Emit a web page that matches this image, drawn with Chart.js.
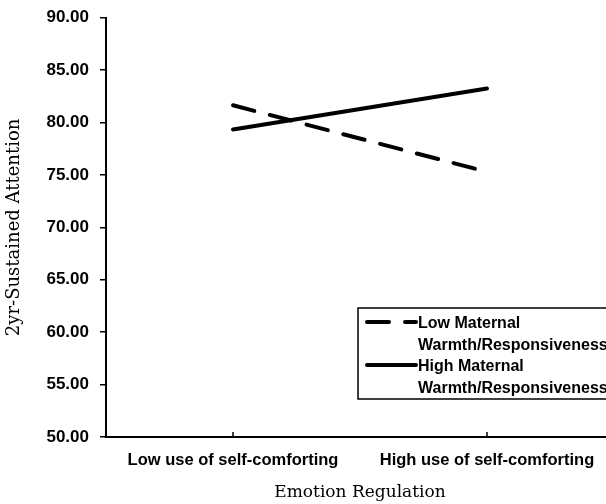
<!DOCTYPE html>
<html>
<head>
<meta charset="utf-8">
<script src="https://cdn.jsdelivr.net/npm/chart.js@4"></script>
<style>
  html, body { margin: 0; padding: 0; background: #fff; overflow: hidden; }
  #wrap { width: 614px; height: 504px; }
</style>
</head>
<body>
<div id="wrap"><canvas id="attnChart"></canvas></div>
<script>
// data
const categories = ["Low use of self-comforting", "High use of self-comforting"];
const lowWarmth = [81.65, 75.3];
const highWarmth = [79.35, 83.25];
const seriesNames = [["Low Maternal", "Warmth/Responsiveness"], ["High Maternal", "Warmth/Responsiveness"]];
const yTicks = [50, 55, 60, 65, 70, 75, 80, 85, 90];

const sans = "'Liberation Sans', Arial, sans-serif";
const serif = "'DejaVu Serif', 'Liberation Serif', serif";

// boxed legend at lower right, drawn from the datasets
const boxLegend = {
  id: "boxLegend",
  afterDraw(chart) {
    const c = chart.ctx;
    c.save();
    c.strokeStyle = "#000";
    c.lineWidth = 1.5;
    c.strokeRect(358, 308, 300, 91);
    c.font = "bold 16px " + sans;
    c.fillStyle = "#000";
    c.textBaseline = "alphabetic";
    chart.data.datasets.forEach((ds, i) => {
      const y0 = 328 + i * 43;
      c.beginPath();
      c.lineWidth = 4;
      c.lineCap = "round";
      c.setLineDash(ds.borderDash || []);
      c.moveTo(367, y0 - 6);
      c.lineTo(416, y0 - 6);
      c.stroke();
      c.setLineDash([]);
      ds.legendText.forEach((t, k) => c.fillText(t, 418, y0 + k * 22));
    });
    c.restore();
  }
};

// small inward tick marks on the category axis
const innerTicks = {
  id: "innerTicks",
  afterDraw(chart) {
    const x = chart.scales.x, c = chart.ctx;
    c.save();
    c.strokeStyle = "#000";
    c.lineWidth = 1.5;
    x.ticks.forEach((t, i) => {
      const px = x.getPixelForTick(i);
      c.beginPath();
      c.moveTo(px, x.top);
      c.lineTo(px, x.top - 5);
      c.stroke();
    });
    c.restore();
  }
};

new Chart(document.getElementById("attnChart"), {
  type: "line",
  data: {
    labels: categories,
    datasets: [
      {
        label: seriesNames[0].join(" "),
        legendText: seriesNames[0],
        data: lowWarmth,
        borderColor: "#000",
        borderWidth: 4,
        borderDash: [22, 16],
        borderCapStyle: "round",
        pointRadius: 0,
        tension: 0,
      },
      {
        label: seriesNames[1].join(" "),
        legendText: seriesNames[1],
        data: highWarmth,
        borderColor: "#000",
        borderWidth: 4,
        borderCapStyle: "round",
        pointRadius: 0,
        tension: 0,
      },
    ],
  },
  plugins: [boxLegend, innerTicks],
  options: {
    responsive: true,
    maintainAspectRatio: false,
    animation: false,
    layout: { padding: { top: 0, right: 0, left: 0, bottom: 0 } },
    plugins: {
      legend: { display: false },
      tooltip: { enabled: false },
    },
    scales: {
      x: {
        offset: true,
        afterFit: (s) => { s.height = 67; },
        grid: { display: false },
        border: { display: true, color: "#000", width: 2 },
        ticks: {
          color: "#000",
          font: { family: sans, size: 16.5, weight: "bold" },
          padding: 6,
          maxRotation: 0,
          autoSkip: false,
        },
        title: {
          display: true,
          text: "Emotion Regulation",
          color: "#000",
          font: { family: serif, size: 17 },
          padding: { top: 0, bottom: 1 },
        },
      },
      y: {
        min: yTicks[0],
        max: yTicks[yTicks.length - 1],
        afterFit: (s) => { s.width = 106; },
        afterBuildTicks: (s) => { s.ticks = yTicks.map((v) => ({ value: v })); },
        grid: {
          drawOnChartArea: false,
          drawTicks: true,
          tickLength: 6,
          color: "#000",
          lineWidth: 1.5,
        },
        border: { display: true, color: "#000", width: 2 },
        ticks: {
          color: "#000",
          font: { family: sans, size: 17, weight: "bold", lineHeight: 0.8 },
          padding: 11,
          callback: (v) => Number(v).toFixed(2),
        },
        title: {
          display: true,
          text: "2yr-Sustained Attention",
          color: "#000",
          font: { family: serif, size: 18 },
          padding: { top: 4, bottom: 0 },
        },
      },
    },
  },
});
</script>
</body>
</html>
